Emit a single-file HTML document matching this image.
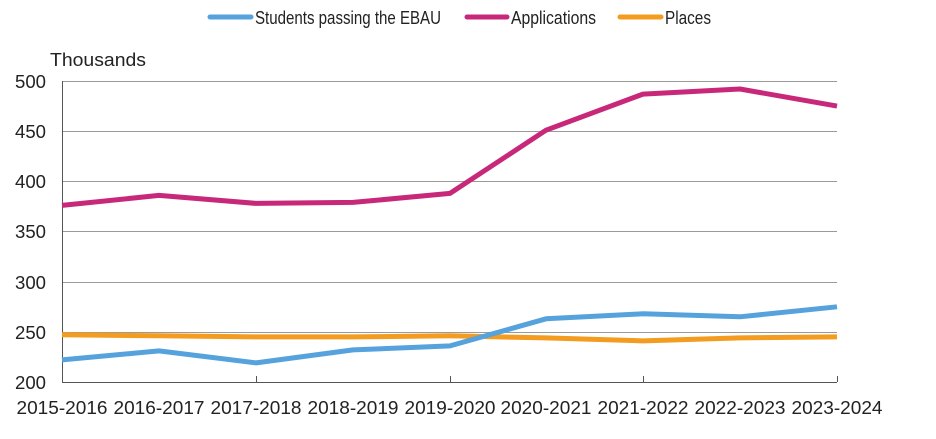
<!DOCTYPE html>
<html><head><style>body{margin:0;background:#fff}svg{display:block}text{font-family:"Liberation Sans",Arial,sans-serif;fill:#222}</style></head><body>
<svg width="936" height="439" viewBox="0 0 936 439">
<g stroke="#9a9a9a" stroke-width="1">
<line x1="62" y1="81.5" x2="837" y2="81.5"/><line x1="62" y1="131.5" x2="837" y2="131.5"/><line x1="62" y1="181.5" x2="837" y2="181.5"/><line x1="62" y1="231.5" x2="837" y2="231.5"/><line x1="62" y1="282.5" x2="837" y2="282.5"/><line x1="62" y1="332.5" x2="837" y2="332.5"/>
</g>
<g stroke="#555" stroke-width="1">
<line x1="62.5" y1="81" x2="62.5" y2="382"/><line x1="62" y1="382.5" x2="837" y2="382.5"/>
<line x1="256.5" y1="376" x2="256.5" y2="382"/><line x1="450.5" y1="376" x2="450.5" y2="382"/><line x1="643.5" y1="376" x2="643.5" y2="382"/><line x1="837.5" y1="376" x2="837.5" y2="382"/>
</g>
<g font-size="18.5" text-anchor="end">
<text x="46" y="88" textLength="31" lengthAdjust="spacingAndGlyphs">500</text><text x="46" y="138" textLength="31" lengthAdjust="spacingAndGlyphs">450</text><text x="46" y="188" textLength="31" lengthAdjust="spacingAndGlyphs">400</text><text x="46" y="238" textLength="31" lengthAdjust="spacingAndGlyphs">350</text><text x="46" y="289" textLength="31" lengthAdjust="spacingAndGlyphs">300</text><text x="46" y="339" textLength="31" lengthAdjust="spacingAndGlyphs">250</text><text x="46" y="389" textLength="31" lengthAdjust="spacingAndGlyphs">200</text>
</g>
<text x="50" y="66" font-size="18" textLength="96" lengthAdjust="spacingAndGlyphs">Thousands</text>
<g font-size="18.5" text-anchor="middle">
<text x="62" y="414" textLength="91" lengthAdjust="spacingAndGlyphs">2015-2016</text><text x="159" y="414" textLength="91" lengthAdjust="spacingAndGlyphs">2016-2017</text><text x="256" y="414" textLength="91" lengthAdjust="spacingAndGlyphs">2017-2018</text><text x="353" y="414" textLength="91" lengthAdjust="spacingAndGlyphs">2018-2019</text><text x="450" y="414" textLength="91" lengthAdjust="spacingAndGlyphs">2019-2020</text><text x="546" y="414" textLength="91" lengthAdjust="spacingAndGlyphs">2020-2021</text><text x="643" y="414" textLength="91" lengthAdjust="spacingAndGlyphs">2021-2022</text><text x="740" y="414" textLength="91" lengthAdjust="spacingAndGlyphs">2022-2023</text><text x="837" y="414" textLength="91" lengthAdjust="spacingAndGlyphs">2023-2024</text>
</g>
<g fill="none" stroke-width="5" stroke-linejoin="round">
<polyline stroke="#f39c1f" points="62,334.8 159,335.8 256,336.9 353,336.9 450,335.8 546,337.9 643,340.9 740,337.9 837,336.9"/>
<polyline stroke="#56a2dc" points="62,359.9 159,350.9 256,362.9 353,349.9 450,345.9 546,318.8 643,313.8 740,316.8 837,306.8"/>
<polyline stroke="#c8287a" points="62,205.4 159,195.4 256,203.4 353,202.4 450,193.4 546,130.2 643,94.1 740,89 837,106.1"/>
</g>
<g stroke-width="5" stroke-linecap="round">
<line x1="210" y1="17" x2="251" y2="17" stroke="#56a2dc"/><line x1="467" y1="17" x2="507" y2="17" stroke="#c8287a"/><line x1="620" y1="17" x2="661" y2="17" stroke="#f39c1f"/>
</g>
<g font-size="18">
<text x="255" y="24" textLength="186" lengthAdjust="spacingAndGlyphs">Students passing the EBAU</text><text x="511" y="24" textLength="85" lengthAdjust="spacingAndGlyphs">Applications</text><text x="665" y="24" textLength="46" lengthAdjust="spacingAndGlyphs">Places</text>
</g>
</svg>
</body></html>
